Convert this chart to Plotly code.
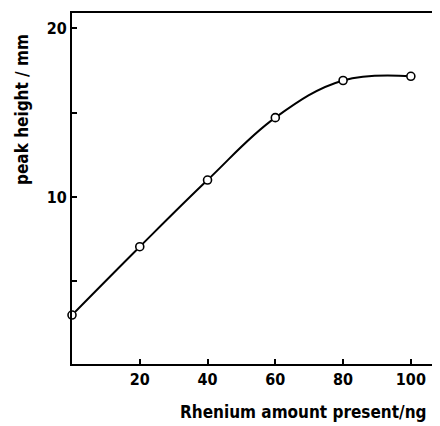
import plotly.graph_objects as go

# data
rhenium_ng = [0, 20, 40, 60, 80, 100]
peak_height_mm = [3.0, 7.05, 11.0, 14.7, 16.9, 17.15]

x_tick_vals = [20, 40, 60, 80, 100]
x_tick_text = ["20", "40", "60", "80", "100"]
y_tick_vals = [5, 10, 15, 20]
y_tick_text = ["", "10", "", "20"]

FONT = "DejaVu Sans Condensed"

# page body has an 8px margin, figure is sized/placed to compensate
W, H = 432, 418
L, T, B = 64, 5, 62

fig = go.Figure()
fig.add_trace(go.Scatter(
    x=rhenium_ng, y=peak_height_mm,
    mode="lines+markers",
    line=dict(color="black", width=2, shape="spline", smoothing=1.1),
    marker=dict(symbol="circle", size=8, color="white",
                line=dict(color="black", width=1.6)),
    showlegend=False, cliponaxis=False,
))

fig.update_layout(
    width=W, height=H,
    margin=dict(l=L, r=0, t=T, b=B, pad=0),
    paper_bgcolor="white", plot_bgcolor="white",
    font=dict(family=FONT, color="black", size=16, weight="bold"),
    xaxis=dict(
        range=[0, 108.6], showgrid=False, zeroline=False,
        showline=True, linecolor="black", linewidth=2, mirror=True,
        ticks="inside", ticklen=5, tickwidth=1.5, tickcolor="black",
        tickvals=x_tick_vals, ticktext=x_tick_text,
        tickfont=dict(family=FONT, size=16, weight="bold"),
    ),
    yaxis=dict(
        range=[0.1, 20.9], showgrid=False, zeroline=False,
        showline=True, linecolor="black", linewidth=2, mirror=False,
        ticks="inside", ticklen=5, tickwidth=1.5, tickcolor="black",
        tickvals=y_tick_vals, ticktext=y_tick_text,
        tickfont=dict(family=FONT, size=16, weight="bold"),
    ),
    annotations=[
        dict(text="Rhenium amount present/ng", xref="paper", yref="paper",
             x=(303 - 8 - L) / (W - L), y=-(412 - 8 - (H - B)) / (H - B - T),
             xanchor="center", yanchor="middle", showarrow=False,
             font=dict(family=FONT, size=17, weight="bold")),
        dict(text="peak height / mm", xref="paper", yref="paper",
             x=-(L - (22 - 8)) / (W - L), y=((H - B) - (110 - 8)) / (H - B - T),
             xanchor="center", yanchor="middle", textangle=-90, showarrow=False,
             font=dict(family=FONT, size=17, weight="bold")),
    ],
)

fig.write_html("out.html")
